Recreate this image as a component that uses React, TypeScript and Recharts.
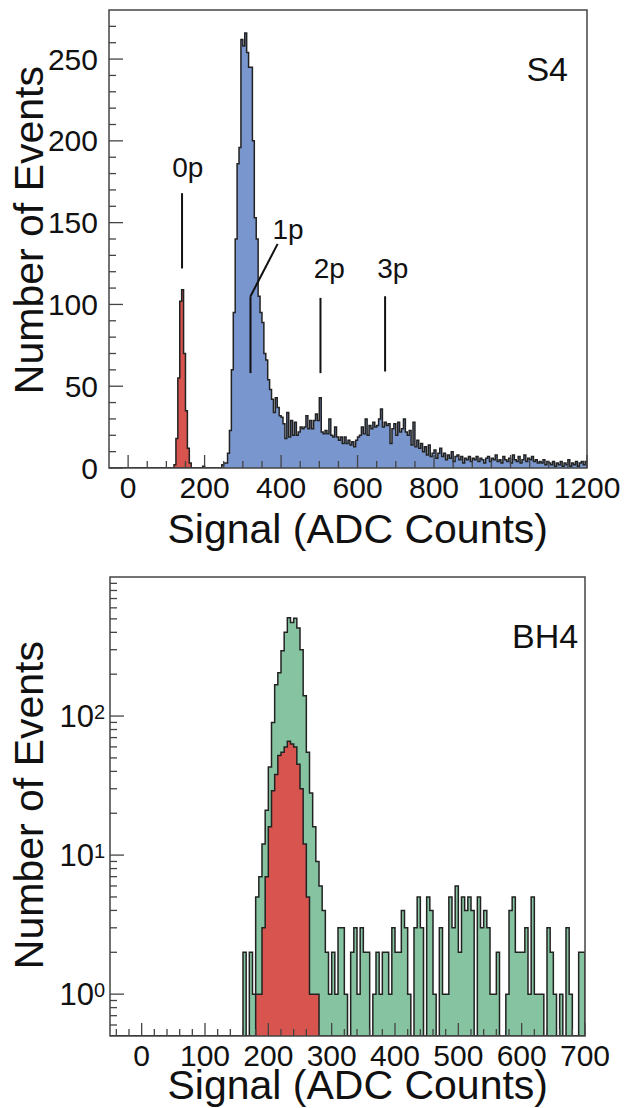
import React from 'react';
import {
  ComposedChart,
  Area,
  XAxis,
  YAxis,
  ReferenceLine,
  ReferenceDot,
  ReferenceArea,
} from 'recharts';

const FONT = '"Liberation Sans", Arial, Helvetica, sans-serif';
const INK = '#111111';
const FRAME = '#444444';
const OUTLINE = '#222222';
const BLUE = '#7a96cf';
const RED = '#d8544f';
const GREEN = '#86c4a1';

// ---------------- S4 (top panel, linear) ----------------
const S4_BIN = 5;
const S4_X_DOMAIN: [number, number] = [-50, 1200];
const S4_Y_DOMAIN: [number, number] = [0, 280];
const S4_RED_START = 120;
const s4Red = [2, 18, 55, 102, 109, 70, 35, 12, 3];
const S4_BLUE_START = 195;
const s4Blue = [
  1, 0, 0, 0, 0, 0, 0, 0, 0, 0,
  2, 3, 3, 9, 23, 60, 95, 140, 186, 196,
  262, 258, 266, 254, 245, 245, 200, 153, 140, 105,
  95, 89, 70, 66, 54, 48, 42, 34, 43, 37,
  32, 31, 27, 18, 34, 19, 29, 20, 28, 20,
  22, 25, 24, 25, 32, 24, 29, 24, 29, 33,
  29, 43, 22, 21, 23, 21, 30, 20, 19, 25,
  19, 17, 19, 15, 19, 15, 17, 14, 16, 13,
  17, 19, 20, 25, 21, 30, 20, 26, 24, 28,
  25, 26, 30, 36, 25, 28, 26, 27, 15, 24,
  27, 20, 28, 22, 24, 30, 22, 20, 23, 14,
  28, 13, 17, 12, 15, 10, 13, 8, 14, 7,
  9, 11, 6, 9, 12, 7, 9, 5, 8, 6,
  10, 4, 7, 8, 5, 7, 3, 6, 5, 7,
  4, 6, 5, 7, 4, 6, 5, 3, 6, 7,
  4, 6, 5, 8, 4, 5, 3, 7, 5, 4,
  6, 3, 8, 5, 4, 7, 3, 5, 8, 4,
  6, 5, 7, 4, 5, 3, 4, 3, 5, 2,
  4, 3, 2, 4, 1, 3, 2, 4, 1, 3,
  2, 5, 1, 3, 2, 4, 1, 3, 4, 2,
  4,
];
const s4XMajor = [0, 200, 400, 600, 800, 1000, 1200];
const S4_X_MINOR_STEP = 50;
const s4YMajor = [0, 50, 100, 150, 200, 250];
const S4_Y_MINOR_STEP = 10;
const S4_TITLE = 'S4';
const S4_TITLE_POS = { x: 1096, y: 244 };
const s4PeakNames = ['0p', '1p', '2p', '3p'];
const s4PeakLabelX = [156, 418, 526, 692];
const s4PeakLabelY = [184, 146, 122, 122];
const s4PeakLines: number[][][] = [
  [[141, 168], [141, 122]],
  [[320, 58], [320, 105], [391, 137]],
  [[503, 58], [503, 104]],
  [[672, 59], [672, 105]],
];

// ---------------- BH4 (bottom panel, log) ----------------
const BH_BIN = 5;
const BH_X_DOMAIN: [number, number] = [-50, 700];
const BH_Y_DOMAIN: [number, number] = [0.5, 1000];
const BH_GREEN_START = 160;
const bhGreen = [
  2, 0, 2, 1, 5, 7, 12, 21, 43, 90,
  168, 205, 295, 400, 510, 470, 505, 430, 300, 140,
  55, 28, 16, 9, 6, 4,
  2, 1, 2, 1, 3, 3, 1, 0, 2, 3,
  1, 3, 2, 2, 0, 1, 2, 1, 2, 2,
  1, 3, 2, 2, 4, 3, 1, 0, 3, 5,
  3, 0, 5, 4, 1, 0, 3, 1, 1, 5,
  3, 6, 2, 5, 4, 5, 4, 0, 5, 3,
  4, 3, 1, 1, 2, 0, 0, 1, 4, 5,
  2, 2, 2, 3, 1, 5, 1, 1, 1, 0,
  3, 2, 1, 0, 1, 0, 3, 1, 0, 0,
  2, 2,
];
const BH_RED_START = 180;
const bhRed = [1, 1, 3, 7, 16, 29, 38, 52, 55, 60, 66, 63, 60, 45, 30, 12, 5, 1, 1, 1];
const bhXMajor = [0, 100, 200, 300, 400, 500, 600, 700];
const BH_X_MINOR_STEP = 20;
const BH_X_MINOR_FIRST = -40;
const bhYTicks = [
  0.6, 0.7, 0.8, 0.9, 1, 2, 3, 4, 5, 6, 7, 8, 9,
  10, 20, 30, 40, 50, 60, 70, 80, 90, 100, 200, 300, 400, 500, 600, 700, 800, 900,
];
const bhYMajor = [1, 10, 100];
const bhYMajorExp = ['0', '1', '2'];
const BH_TITLE = 'BH4';
const BH_TITLE_POS = { x: 637, y: 378 };

const X_TITLE = 'Signal (ADC Counts)';
const Y_TITLE = 'Number of Events';

const TICK_FONT = 30;
const TITLE_FONT = 41;

// ---------------- helpers ----------------
type Series = { key: string; start: number; counts: number[] };

function buildTable(min: number, max: number, bin: number, series: Series[], floor: number) {
  const rows: any[] = [];
  const n = Math.round((max - min) / bin);
  for (let k = 0; k <= n; k++) {
    const x = min + k * bin;
    const row: any = { x };
    for (const s of series) {
      const i = Math.round((x - s.start) / bin);
      const v = k < n && i >= 0 && i < s.counts.length ? s.counts[i] : 0;
      row[s.key] = Math.max(v, floor);
    }
    rows.push(row);
  }
  return rows;
}

function stepTicks(first: number, last: number, step: number) {
  const out: number[] = [];
  const n = Math.round((last - first) / step);
  for (let i = 0; i <= n; i++) out.push(first + i * step);
  return out;
}

const s4Data = buildTable(S4_X_DOMAIN[0], S4_X_DOMAIN[1], S4_BIN, [
  { key: 'red', start: S4_RED_START, counts: s4Red },
  { key: 'blue', start: S4_BLUE_START, counts: s4Blue },
], 0);

const bhData = buildTable(BH_X_DOMAIN[0], BH_X_DOMAIN[1], BH_BIN, [
  { key: 'green', start: BH_GREEN_START, counts: bhGreen },
  { key: 'red', start: BH_RED_START, counts: bhRed },
], BH_Y_DOMAIN[0]);

const s4XTicks = stepTicks(0, S4_X_DOMAIN[1], S4_X_MINOR_STEP);
const s4YTicks = stepTicks(0, S4_Y_DOMAIN[1] - S4_Y_MINOR_STEP, S4_Y_MINOR_STEP);
const bhXTicks = stepTicks(BH_X_MINOR_FIRST, BH_X_DOMAIN[1], BH_X_MINOR_STEP);

const isIn = (arr: number[], v: number) => arr.some((m) => Math.abs(m - v) < 1e-9);

const makeXTick = (majors: number[]) => (props: any) => {
  const { x, y, payload } = props;
  const v = payload.value;
  const major = isIn(majors, v);
  return (
    <g>
      <line x1={x} x2={x} y1={y} y2={y - (major ? 13 : 7)} stroke={FRAME} strokeWidth={1.3} />
      {major && (
        <text x={x} y={y + 30} textAnchor="middle" fontSize={TICK_FONT} fill={INK}>
          {String(v)}
        </text>
      )}
    </g>
  );
};

const makeYTick = (majors: number[]) => (props: any) => {
  const { x, y, payload } = props;
  const v = payload.value;
  const major = isIn(majors, v);
  return (
    <g>
      <line x1={x} x2={x + (major ? 14 : 7)} y1={y} y2={y} stroke={FRAME} strokeWidth={1.3} />
      {major && (
        <text x={x - 11} y={y + 10.5} textAnchor="end" fontSize={TICK_FONT} fill={INK}>
          {String(v)}
        </text>
      )}
    </g>
  );
};

const logYTick = (props: any) => {
  const { x, y, payload } = props;
  const v = payload.value;
  const idx = bhYMajor.findIndex((m) => Math.abs(m - v) < 1e-9);
  const major = idx >= 0;
  return (
    <g>
      <line x1={x} x2={x + (major ? 14 : 7)} y1={y} y2={y} stroke={FRAME} strokeWidth={1.3} />
      {major && (
        <text x={x - 5} y={y + 11} textAnchor="end" fill={INK}>
          <tspan fontSize={31}>10</tspan>
          <tspan fontSize={20} dy={-8}>{bhYMajorExp[idx]}</tspan>
        </text>
      )}
    </g>
  );
};

const xTitle = (dx: number, dy: number) => (props: any) => {
  const vb = props.viewBox || {};
  return (
    <text x={vb.x + vb.width - dx} y={vb.y + dy} textAnchor="end" fontSize={TITLE_FONT} fill={INK}>
      {X_TITLE}
    </text>
  );
};

const yTitle = (fromTop: number, baseX: number) => (props: any) => {
  const vb = props.viewBox || {};
  return (
    <text
      transform="rotate(-90)"
      x={-(vb.y + fromTop)}
      y={baseX}
      textAnchor="end"
      fontSize={TITLE_FONT}
      fill={INK}
    >
      {Y_TITLE}
    </text>
  );
};

function S4Chart() {
  return (
    <ComposedChart
      width={632}
      height={560}
      data={s4Data}
      margin={{ top: 10, right: 45, bottom: 0, left: 0 }}
    >
      <Area
        type="stepAfter"
        dataKey="red"
        stroke={OUTLINE}
        strokeWidth={1.5}
        fill={RED}
        fillOpacity={1}
        isAnimationActive={false}
        dot={false}
        activeDot={false}
      />
      <Area
        type="stepAfter"
        dataKey="blue"
        stroke={OUTLINE}
        strokeWidth={1.5}
        fill={BLUE}
        fillOpacity={1}
        isAnimationActive={false}
        dot={false}
        activeDot={false}
      />
      {s4PeakLines.map((pts, i) =>
        pts.slice(1).map((p, j) => (
          <ReferenceLine
            key={`pl-${i}-${j}`}
            segment={[
              { x: pts[j][0], y: pts[j][1] },
              { x: p[0], y: p[1] },
            ]}
            stroke="#111"
            strokeWidth={2}
            ifOverflow="extendDomain"
          />
        ))
      )}
      {s4PeakNames.map((name, i) => (
        <ReferenceDot
          key={`pn-${i}`}
          x={s4PeakLabelX[i]}
          y={s4PeakLabelY[i]}
          r={0}
          fill="none"
          stroke="none"
          label={{ value: name, position: 'center', fontSize: 28, fill: INK }}
        />
      ))}
      <ReferenceDot
        x={S4_TITLE_POS.x}
        y={S4_TITLE_POS.y}
        r={0}
        fill="none"
        stroke="none"
        label={{ value: S4_TITLE, position: 'center', fontSize: 34, fill: INK }}
      />
      <ReferenceArea
        x1={S4_X_DOMAIN[0]}
        x2={S4_X_DOMAIN[1]}
        y1={S4_Y_DOMAIN[0]}
        y2={S4_Y_DOMAIN[1]}
        fill="none"
        fillOpacity={0}
        stroke={FRAME}
        strokeWidth={1.5}
      />
      <XAxis
        dataKey="x"
        type="number"
        domain={S4_X_DOMAIN}
        allowDataOverflow
        ticks={s4XTicks}
        interval={0}
        tickSize={0}
        tickMargin={0}
        tickLine={false}
        axisLine={false}
        height={92}
        tick={makeXTick(s4XMajor)}
        label={{ content: xTitle(39, 75) }}
      />
      <YAxis
        type="number"
        domain={S4_Y_DOMAIN}
        allowDataOverflow
        ticks={s4YTicks}
        interval={0}
        tickSize={0}
        tickMargin={0}
        tickLine={false}
        axisLine={false}
        width={109}
        tick={makeYTick(s4YMajor)}
        label={{ content: yTitle(56, 43) }}
      />
    </ComposedChart>
  );
}

function BHChart() {
  return (
    <ComposedChart
      width={632}
      height={541}
      data={bhData}
      margin={{ top: 10, right: 47, bottom: 0, left: 0 }}
    >
      <Area
        type="stepAfter"
        dataKey="green"
        stroke={OUTLINE}
        strokeWidth={1.5}
        fill={GREEN}
        fillOpacity={1}
        baseValue={BH_Y_DOMAIN[0]}
        isAnimationActive={false}
        dot={false}
        activeDot={false}
      />
      <Area
        type="stepAfter"
        dataKey="red"
        stroke={OUTLINE}
        strokeWidth={1.5}
        fill={RED}
        fillOpacity={1}
        baseValue={BH_Y_DOMAIN[0]}
        isAnimationActive={false}
        dot={false}
        activeDot={false}
      />
      <ReferenceDot
        x={BH_TITLE_POS.x}
        y={BH_TITLE_POS.y}
        r={0}
        fill="none"
        stroke="none"
        label={{ value: BH_TITLE, position: 'center', fontSize: 34, fill: INK }}
      />
      <ReferenceArea
        x1={BH_X_DOMAIN[0]}
        x2={BH_X_DOMAIN[1]}
        y1={BH_Y_DOMAIN[0]}
        y2={BH_Y_DOMAIN[1]}
        fill="none"
        fillOpacity={0}
        stroke={FRAME}
        strokeWidth={1.5}
      />
      <XAxis
        dataKey="x"
        type="number"
        domain={BH_X_DOMAIN}
        allowDataOverflow
        ticks={bhXTicks}
        interval={0}
        tickSize={0}
        tickMargin={0}
        tickLine={false}
        axisLine={false}
        height={72}
        tick={makeXTick(bhXMajor)}
        label={{ content: xTitle(37, 63) }}
      />
      <YAxis
        type="number"
        scale="log"
        domain={BH_Y_DOMAIN}
        allowDataOverflow
        ticks={bhYTicks}
        interval={0}
        tickSize={0}
        tickMargin={0}
        tickLine={false}
        axisLine={false}
        width={110}
        tick={logYTick}
        label={{ content: yTitle(64, 43) }}
      />
    </ComposedChart>
  );
}

export default function App() {
  return (
    <div
      style={{
        position: 'absolute',
        left: 0,
        top: 0,
        width: 632,
        height: 1108,
        background: '#ffffff',
        fontFamily: FONT,
        overflow: 'hidden',
      }}
    >
      <div style={{ position: 'absolute', left: 0, top: 0 }}>
        <S4Chart />
      </div>
      <div style={{ position: 'absolute', left: 0, top: 567 }}>
        <BHChart />
      </div>
    </div>
  );
}
